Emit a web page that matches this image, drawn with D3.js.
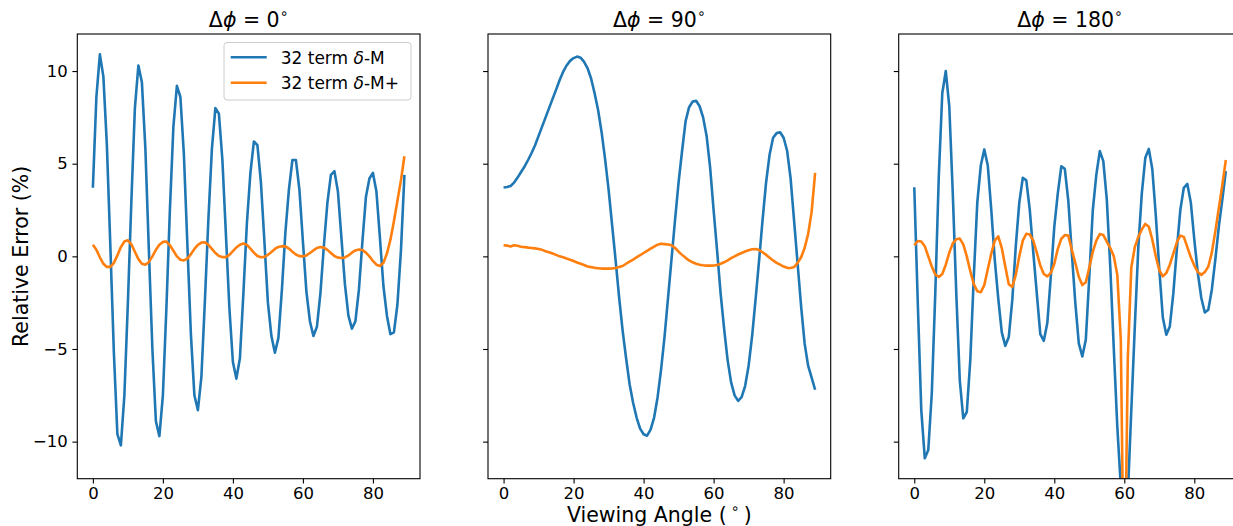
<!DOCTYPE html>
<html><head><meta charset="utf-8">
<script src="https://cdn.jsdelivr.net/npm/d3@7"></script>
<style>
body{margin:0;background:#fff}
svg{display:block}
text{font-family:"DejaVu Sans",sans-serif;fill:#000}
</style>
</head><body>
<svg id="c" width="1233" height="526"></svg>
<script>
// ---------------- data ----------------
const angles = [0,1,2,3,4,5,6,7,8,9,10,11,12,13,14,15,16,17,18,19,20,21,22,23,24,25,26,27,28,29,
30,31,32,33,34,35,36,37,38,39,40,41,42,43,44,45,46,47,48,49,50,51,52,53,54,55,56,57,58,59,
60,61,62,63,64,65,66,67,68,69,70,71,72,73,74,75,76,77,78,79,80,81,82,83,84,85,86,87,88,89];

const panelTitles = ["0", "90", "180"];
const xTicks = [0, 20, 40, 60, 80];
const yTicks = [-10, -5, 0, 5, 10];
const seriesLabels = ["32 term δ-M", "32 term δ-M+"];

// Δφ = 0°
const dm_0 = [3.7,8.6,10.9,9.7,6.0,0.5,-5.2,-9.6,-10.2,-7.5,
-2.5,3.0,8.0,10.3,9.4,5.8,0.3,-5.0,-8.9,-9.7,
-7.5,-2.8,2.5,7.0,9.2,8.6,5.5,0.6,-4.2,-7.5,
-8.3,-6.5,-2.4,2.0,5.8,8.0,7.7,5.2,1.2,-2.8,
-5.7,-6.6,-5.5,-2.0,1.8,4.5,6.2,6.0,4.0,0.8,
-2.5,-4.3,-5.2,-4.4,-1.8,1.3,3.6,5.2,5.2,3.6,
0.8,-1.9,-3.5,-4.3,-3.8,-2.0,0.6,2.9,4.4,4.6,
3.5,1.0,-1.5,-3.2,-3.9,-3.5,-1.8,0.8,3.2,4.2,
4.5,3.5,1.0,-1.6,-3.2,-4.2,-4.1,-2.6,0.3,4.4];
const dmp_0 = [0.62,0.35,-0.05,-0.40,-0.57,-0.57,-0.35,0.05,0.50,0.80,
0.87,0.65,0.25,-0.15,-0.40,-0.45,-0.30,0.00,0.35,0.62,
0.78,0.80,0.60,0.30,0.00,-0.18,-0.22,-0.12,0.12,0.40,
0.62,0.74,0.76,0.62,0.40,0.18,0.02,-0.04,-0.04,0.08,
0.28,0.48,0.63,0.69,0.62,0.42,0.20,0.02,-0.05,-0.03,
0.08,0.24,0.40,0.51,0.55,0.54,0.42,0.25,0.10,0.01,
0.00,0.05,0.18,0.32,0.45,0.50,0.47,0.35,0.18,0.02,
-0.07,-0.09,-0.06,0.05,0.20,0.32,0.37,0.34,0.20,0.00,
-0.25,-0.45,-0.52,-0.35,0.15,0.90,1.90,3.00,4.10,5.40];

// Δφ = 90°
const dm_90 = [3.72,3.74,3.80,3.98,4.25,4.55,4.85,5.20,5.58,6.00,
6.50,7.00,7.50,8.00,8.50,9.00,9.50,9.95,10.30,10.55,
10.70,10.78,10.72,10.50,10.15,9.60,8.80,7.90,6.70,5.25,
3.60,1.70,-0.20,-2.20,-4.00,-5.50,-6.90,-7.90,-8.70,-9.30,
-9.60,-9.68,-9.35,-8.70,-7.60,-6.10,-4.30,-2.20,-0.10,2.00,
4.00,5.70,7.30,8.05,8.35,8.40,8.10,7.50,6.50,4.80,
2.50,0.30,-2.00,-3.90,-5.60,-6.80,-7.50,-7.80,-7.60,-7.00,
-5.90,-4.30,-2.30,-0.20,2.00,4.00,5.50,6.40,6.65,6.70,
6.40,5.70,4.20,1.90,-0.40,-2.70,-4.70,-5.90,-6.55,-7.20];
const dmp_90 = [0.60,0.58,0.53,0.60,0.57,0.52,0.50,0.47,0.45,0.43,
0.40,0.35,0.28,0.22,0.15,0.08,0.00,-0.05,-0.12,-0.18,
-0.25,-0.33,-0.40,-0.47,-0.55,-0.58,-0.62,-0.64,-0.66,-0.66,
-0.66,-0.65,-0.63,-0.58,-0.52,-0.40,-0.28,-0.18,-0.05,0.06,
0.18,0.30,0.42,0.53,0.63,0.68,0.66,0.64,0.60,0.45,
0.25,0.08,-0.08,-0.22,-0.32,-0.40,-0.45,-0.48,-0.50,-0.50,
-0.49,-0.47,-0.40,-0.32,-0.22,-0.10,0.00,0.10,0.18,0.26,
0.33,0.38,0.40,0.34,0.22,0.08,-0.07,-0.22,-0.35,-0.45,
-0.55,-0.62,-0.63,-0.58,-0.35,-0.05,0.45,1.20,2.40,4.50];

// Δφ = 180°
const dm_180 = [3.73,-2.5,-8.3,-10.9,-10.45,-7.4,-2.0,4.3,8.8,10.0,
8.1,3.4,-2.0,-6.7,-8.74,-8.4,-5.6,-1.1,2.9,4.9,
5.77,4.9,2.5,-0.2,-2.3,-4.1,-4.83,-4.35,-2.35,0.55,
2.9,4.24,4.1,2.5,0.2,-2.0,-4.2,-4.56,-3.6,-1.1,
1.6,3.4,4.86,4.72,3.0,0.2,-2.5,-4.7,-5.4,-4.5,
-1.1,2.5,4.4,5.68,5.14,3.06,-0.6,-5.0,-9.2,-12.4,
-18.0,-12.9,-8.3,-3.8,0.5,3.4,5.32,5.8,4.7,2.2,
-0.7,-3.3,-4.23,-3.78,-2.0,0.36,2.5,3.7,3.91,2.9,
0.9,-0.9,-2.25,-3.03,-2.88,-1.8,-0.18,1.6,3.06,4.6];
const dmp_180 = [0.60,0.83,0.80,0.55,0.00,-0.55,-0.98,-1.11,-0.95,-0.45,
0.20,0.70,0.92,0.96,0.65,0.00,-0.80,-1.50,-1.88,-1.94,
-1.55,-0.70,0.15,0.85,1.08,0.45,-0.55,-1.50,-1.65,-1.00,
0.00,0.85,1.22,1.18,0.85,0.20,-0.50,-0.95,-1.08,-0.90,
-0.40,0.40,0.95,1.15,1.12,0.35,-0.35,-1.10,-1.55,-1.40,
-0.60,0.25,0.85,1.20,1.15,0.80,0.45,0.00,-1.00,-4.50,
-20.0,-5.50,-0.60,0.50,1.05,1.45,1.75,1.60,0.90,0.00,
-0.75,-1.08,-0.90,-0.45,0.15,0.75,1.12,1.05,0.50,-0.05,
-0.50,-0.85,-1.00,-0.85,-0.55,0.20,1.35,2.60,3.85,5.20];

const panelSeries = [[dm_0, dmp_0], [dm_90, dmp_90], [dm_180, dmp_180]];
const colors = ["#1f77b4", "#ff7f0e"];

// ---------------- layout ----------------
const svg = d3.select("#c");
const plotTop = 34, plotBottom = 478.7;
const panelLeft = [77.3, 488.0, 898.7];
const panelW = 342.7;
const tickFont = "16.5px", legendFont = "17px", labelFont = "20.5px";

const y = d3.scaleLinear().domain([-12, 12]).range([plotBottom, plotTop]);
const fmt = d => d < 0 ? "\u2212" + Math.abs(d) : String(d);

panelSeries.forEach((series, i) => {
  const x0 = panelLeft[i], x1 = x0 + panelW;
  const x = d3.scaleLinear().domain([-4.45, 93.45]).range([x0, x1]);
  const g = svg.append("g");

  const clipId = "clip" + i;
  svg.append("clipPath").attr("id", clipId)
    .append("rect").attr("x", x0).attr("y", plotTop).attr("width", panelW).attr("height", plotBottom - plotTop);

  const line = d3.line().x((d, k) => x(angles[k])).y(d => y(d));
  series.forEach((vals, s) => {
    g.append("path").datum(vals)
      .attr("clip-path", `url(#${clipId})`)
      .attr("fill", "none").attr("stroke", colors[s])
      .attr("stroke-width", 2.6).attr("stroke-linejoin", "round").attr("stroke-linecap", "butt")
      .attr("d", line);
  });

  const ax = g.append("g").attr("transform", `translate(0,${plotBottom})`)
    .call(d3.axisBottom(x).tickValues(xTicks).tickSize(4.9).tickPadding(3.2).tickFormat(fmt));
  const ay = g.append("g").attr("transform", `translate(${x0},0)`)
    .call(d3.axisLeft(y).tickValues(yTicks).tickSize(4.9).tickPadding(4.6).tickFormat(i === 0 ? fmt : () => ""));
  [ax, ay].forEach(a => {
    a.select(".domain").remove();
    a.selectAll(".tick line").attr("stroke", "#000").attr("stroke-width", 1.1);
    a.selectAll(".tick text").attr("font-size", tickFont).attr("font-family", "DejaVu Sans").attr("fill", "#000");
  });

  g.append("rect").attr("x", x0).attr("y", plotTop).attr("width", panelW).attr("height", plotBottom - plotTop)
    .attr("fill", "none").attr("stroke", "#000").attr("stroke-width", 1.1);

  const t = g.append("text").attr("x", (x0 + x1) / 2).attr("y", 26.5)
    .attr("text-anchor", "middle").attr("font-size", labelFont);
  t.append("tspan").text("\u0394");
  t.append("tspan").attr("font-style", "italic").text("\u03d5");
  t.append("tspan").text(" = " + panelTitles[i]);
  t.append("tspan").attr("font-size", "14px").attr("dy", -9).text("\u2218");

  if (i === 0) {
    const lg = g.append("g");
    lg.append("rect").attr("x", 224).attr("y", 42.5).attr("width", 187).attr("height", 57.5)
      .attr("rx", 3).attr("fill", "#fff").attr("fill-opacity", 0.8)
      .attr("stroke", "#cccccc").attr("stroke-width", 1);
    seriesLabels.forEach((lab, s) => {
      const ly = 57.3 + s * 25.4;
      lg.append("line").attr("x1", 230.7).attr("x2", 266.7).attr("y1", ly).attr("y2", ly)
        .attr("stroke", colors[s]).attr("stroke-width", 2.6);
      const tx = lg.append("text").attr("x", 280.7).attr("y", ly + 6.3).attr("font-size", legendFont);
      const parts = lab.split("δ");
      tx.append("tspan").text(parts[0]);
      tx.append("tspan").attr("font-style", "italic").text("δ");
      tx.append("tspan").text(parts[1]);
    });
  }
});

const xl = svg.append("text").attr("x", 659.3).attr("y", 522).attr("text-anchor", "middle").attr("font-size", labelFont);
xl.append("tspan").text("Viewing Angle (\u2009");
xl.append("tspan").attr("font-size", "14px").attr("dy", -9).text("\u2218");
xl.append("tspan").attr("dy", 9).text("\u2009)");

svg.append("text").attr("transform", "translate(28,256.4) rotate(-90)")
  .attr("text-anchor", "middle").attr("font-size", labelFont).text("Relative Error (%)");
</script>
</body></html>
